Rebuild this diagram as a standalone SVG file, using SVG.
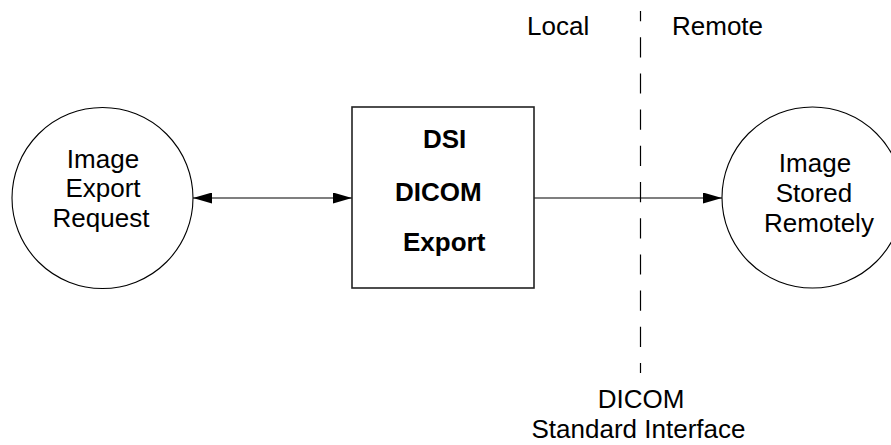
<svg xmlns="http://www.w3.org/2000/svg" width="891" height="445" viewBox="0 0 891 445">
  <style>
    .node { fill: #ffffff; stroke: #000000; stroke-width: 1.1; }
    .box { fill: #ffffff; stroke: #222222; stroke-width: 1.6; }
    .lbl { font-family: "Liberation Sans", Arial, sans-serif; font-size: 26px; fill: #000000; }
    .bold { font-weight: bold; }
    .conn { stroke: #000000; stroke-width: 1.2; fill: none; }
    .dash { stroke: #000000; stroke-width: 1.2; fill: none; stroke-dasharray: 20.2 16; stroke-dashoffset: 10; }
  </style>
  <defs>
    <marker id="arrowEnd" viewBox="0 0 19 11" refX="19" refY="5.5" markerWidth="19" markerHeight="11" markerUnits="userSpaceOnUse" orient="auto">
      <path d="M0,0 L19,5.5 L0,11 Z" fill="#000000"/>
    </marker>
    <marker id="arrowStart" viewBox="0 0 19 11" refX="0" refY="5.5" markerWidth="19" markerHeight="11" markerUnits="userSpaceOnUse" orient="auto">
      <path d="M19,0 L0,5.5 L19,11 Z" fill="#000000"/>
    </marker>
  </defs>
  <rect width="891" height="445" fill="#ffffff"/>

  <g id="boundary">
    <path class="dash" d="M640.5,11 L640.5,373"/>
    <text class="lbl" x="527" y="35">Local</text>
    <text class="lbl" x="672" y="35">Remote</text>
    <text class="lbl" x="641" y="408" text-anchor="middle">DICOM</text>
    <text class="lbl" x="638.5" y="438" text-anchor="middle">Standard Interface</text>
  </g>

  <g id="connectors">
    <path class="conn" d="M193,198 L352,198" marker-start="url(#arrowStart)" marker-end="url(#arrowEnd)"/>
    <path class="conn" d="M534,198 L722,198" marker-end="url(#arrowEnd)"/>
  </g>

  <g id="imageExportRequest">
    <circle class="node" cx="102.5" cy="198" r="90.5"/>
    <text class="lbl" x="103" y="168" text-anchor="middle">Image</text>
    <text class="lbl" x="103" y="197" text-anchor="middle">Export</text>
    <text class="lbl" x="101" y="227" text-anchor="middle">Request</text>
  </g>

  <g id="dsiDicomExport">
    <rect class="box" x="352" y="107" width="182" height="181"/>
    <text class="lbl bold" x="423" y="148">DSI</text>
    <text class="lbl bold" x="395" y="201">DICOM</text>
    <text class="lbl bold" x="403" y="251">Export</text>
  </g>

  <g id="imageStoredRemotely">
    <circle class="node" cx="812.5" cy="197.5" r="90.5"/>
    <text class="lbl" x="815" y="172" text-anchor="middle">Image</text>
    <text class="lbl" x="814" y="202" text-anchor="middle">Stored</text>
    <text class="lbl" x="819" y="232" text-anchor="middle">Remotely</text>
  </g>
</svg>
